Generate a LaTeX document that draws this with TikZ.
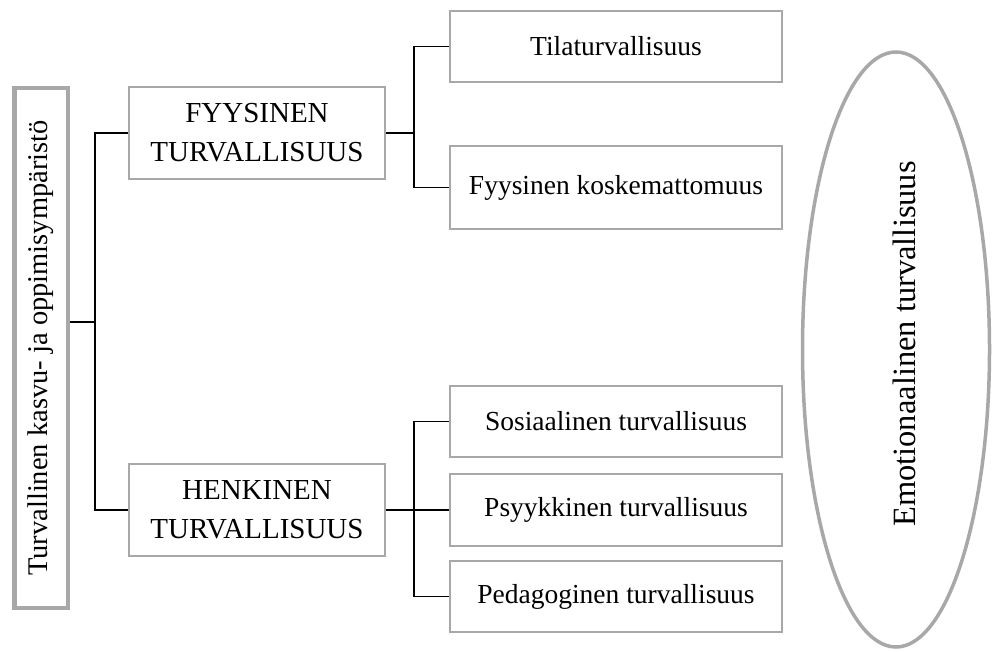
\documentclass[tikz,border=0pt]{standalone}
\usepackage{fontspec}
\setmainfont{Liberation Serif}
\usetikzlibrary{shapes.geometric}
\definecolor{boxgray}{RGB}{168,168,168}
\begin{document}
\begin{tikzpicture}[
				x=1pt, y=-1pt,
				every node/.style={inner sep=0pt, font=\fontsize{27.5}{39}\selectfont},
				box/.style={draw=boxgray, line width=2pt, align=center},
				rootbox/.style={draw=boxgray, line width=4.5pt, rotate=90, font=\fontsize{28.5}{39}\selectfont},
				leaf/.style={box, minimum width=332pt},
				mid/.style={box, minimum width=256pt, minimum height=92pt, font=\fontsize{29}{39}\selectfont},
				link/.style={draw=black, line width=1.7pt}
			]
			\useasboundingbox (0,0) rectangle (992,652);
			% root and main branches
			\node[rootbox, minimum width=519.5pt, minimum height=53.5pt] (root) at (41,348) {Turvallinen kasvu- ja oppimisympäristö};
			\node[mid] (fyys) at (257,133) {FYYSINEN\\TURVALLISUUS};
			\node[mid] (henk) at (257,510) {HENKINEN\\TURVALLISUUS};
			% leaves
			\node[leaf, minimum height=71pt] (tila) at (616,46.5) {Tilaturvallisuus};
			\node[leaf, minimum height=83pt] (kosk) at (616,187.5) {Fyysinen koskemattomuus};
			\node[leaf, minimum height=71pt] (sos) at (616,421.5) {Sosiaalinen turvallisuus};
			\node[leaf, minimum height=72pt] (psyk) at (616,510) {Psyykkinen turvallisuus};
			\node[leaf, minimum height=71pt] (ped) at (616,596.5) {Pedagoginen turvallisuus};
			% emotional safety
			\node[draw=boxgray, line width=3.5pt, ellipse, minimum width=187pt, minimum height=595pt] (emo) at (896,349.5) {};
			\node[rotate=90, font=\fontsize{32.5}{39}\selectfont] (emotxt) at (904,344) {Emotionaalinen turvallisuus};
			% connectors
			\coordinate (j1) at (95,322);
			\coordinate (j2) at (414,136);
			\coordinate (j3) at (414,510);
			\draw[link] (j1 -| root.south) -- (j1);
			\draw[link] (fyys.west) -| (j1) |- (henk.west);
			\draw[link] (fyys.east) -- (fyys.east -| j2);
			\draw[link] (tila.west) -| (j2) |- (kosk.west);
			\draw[link] (henk.east) -- (psyk.west);
			\draw[link] (sos.west) -| (j3) |- (ped.west);
		\end{tikzpicture}
\end{document}
